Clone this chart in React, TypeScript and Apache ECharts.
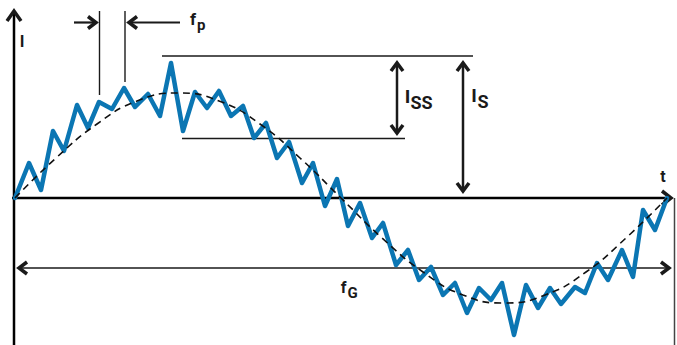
import React, { useEffect, useRef } from "react";
import * as echarts from "echarts";

const noisyT = [0, 14, 26, 38, 49, 62, 73, 84, 97, 109, 120, 133, 145, 156, 168, 180, 192, 204, 216, 228, 239, 251, 262, 274, 287, 298, 310, 322, 333, 345, 357, 368, 381, 393, 404, 416, 428, 440, 452, 464, 476, 487, 499, 511, 523, 535, 546, 560, 570, 582, 593, 607, 618, 628, 640, 652];
const noisyI = [0, 35, 8, 67, 47, 93, 70, 96, 89, 110, 91, 104, 82, 135, 67, 106, 90, 107, 82, 92, 60, 75, 40, 56, 15, 35, -8, 19, -28, -5, -40, -25, -67, -52, -82, -69, -97, -85, -115, -90, -102, -85, -137, -87, -110, -90, -106, -89, -95, -65, -82, -52, -79, -12, -32, 0];

// Fundamental wave (dashed)
const baseT = [0, 41, 82, 122, 163, 204, 245, 285, 326, 367, 408, 448, 489, 530, 571, 611, 652];
const baseI = [0, 40, 74, 97, 105, 97, 74, 40, 0, -40, -74, -97, -105, -97, -74, -40, 0];

const FONT = "Roboto, 'Open Sans', sans-serif";
const INK = "#1a1a1a";

function line(x1: number, y1: number, x2: number, y2: number, w: number, color = INK) {
  return { type: "line", shape: { x1, y1, x2, y2 }, style: { stroke: color, lineWidth: w }, silent: true };
}
function chevron(pts: number[][]) {
  return { type: "polyline", shape: { points: pts }, style: { stroke: INK, lineWidth: 3.5, fill: null, lineJoin: "miter", lineCap: "butt" }, silent: true };
}
function txt(text: string, x: number, y: number, size: number, align = "center") {
  return { type: "text", x, y, style: { text, fill: INK, font: `bold ${size}px ${FONT}`, textAlign: align, textVerticalAlign: "middle" }, silent: true };
}
function vArrow(x: number, y1: number, y2: number) {
  return [
    line(x, y1 + 1, x, y2 - 1, 2.5),
    chevron([[x - 6, y1 + 8], [x, y1], [x + 6, y1 + 8]]),
    chevron([[x - 6, y2 - 8], [x, y2], [x + 6, y2 - 8]]),
  ];
}

export default function App() {
  const ref = useRef<HTMLDivElement>(null);
  useEffect(() => {
    if (!ref.current) return;
    const chart = echarts.init(ref.current, null, { renderer: "svg" });
    const noisy = noisyT.map((t, i) => [t, noisyI[i]]);
    const base = baseT.map((t, i) => [t, baseI[i]]);
    chart.setOption({
      animation: false,
      backgroundColor: "#ffffff",
      grid: { left: 15, top: 10, width: 652, height: 328 },
      xAxis: { type: "value", min: 0, max: 652, show: false },
      yAxis: { type: "value", min: -140, max: 188, show: false },
      series: [
        {
          type: "line",
          data: noisy,
          symbol: "none",
          lineStyle: { color: "#0b76b3", width: 4.5, join: "round", cap: "round" },
          z: 2,
        },
        {
          type: "line",
          data: base,
          smooth: true,
          symbol: "none",
          lineStyle: { color: "#111", width: 1.6, type: [7, 5] },
          z: 3,
        },
      ],
      graphic: [
        // axes
        line(14, 12, 14, 345, 2.5, "#000"),
        chevron([[7, 21], [14, 11], [21, 21]]),
        line(12, 198, 670, 198, 2.5, "#000"),
        chevron([[662, 191], [671, 198], [662, 205]]),
        line(674.5, 198, 674.5, 345, 1.5, "#444"),
        txt("I", 22, 41, 16),
        txt("t", 663, 176, 16),
        // f_p markers
        line(99.5, 11, 99.5, 95, 1.4),
        line(125, 11, 125, 82, 1.4),
        line(74, 22.5, 95, 22.5, 2.2),
        chevron([[88, 16.5], [96, 22.5], [88, 28.5]]),
        line(130, 22.5, 180, 22.5, 2.2),
        chevron([[137, 16.5], [129, 22.5], [137, 28.5]]),
        txt("f", 193, 19, 17),
        txt("p", 197, 25, 15, "left"),
        // I_SS, I_S reference lines
        line(162, 56, 473, 56, 1.4),
        line(182, 138.5, 405, 138.5, 1.4),
        ...vArrow(397, 63, 133),
        txt("I", 407.5, 96.5, 19),
        txt("SS", 410.5, 102, 18, "left"),
        ...vArrow(463, 63, 191),
        txt("I", 474, 95.5, 19),
        txt("S", 477.5, 101.5, 18, "left"),
        // f_G arrow
        line(20, 268, 668, 268, 1.5),
        chevron([[27, 262], [19, 268], [27, 274]]),
        chevron([[661, 262], [669, 268], [661, 274]]),
        txt("f", 343.5, 287, 16),
        txt("G", 347.5, 293, 15, "left"),
      ],
    });
    return () => chart.dispose();
  }, []);
  return <div ref={ref} style={{ position: "fixed", left: 0, top: 0, width: 677, height: 345 }} />;
}
